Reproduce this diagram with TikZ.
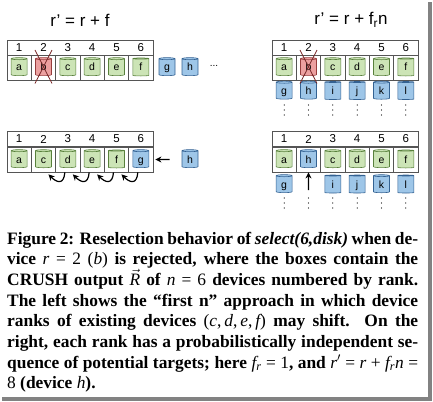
\documentclass[tikz,border=0pt]{standalone}
\usepackage{fontspec}
\setmainfont{Liberation Serif}
\setsansfont{Liberation Sans}
\usepackage{tikz}
\usetikzlibrary{shapes,arrows.meta,positioning}
\definecolor{boxgray}{RGB}{85,85,85}
\definecolor{diskgreen}{RGB}{204,228,182}
\definecolor{diskgreenline}{RGB}{88,128,60}
\definecolor{diskblue}{RGB}{158,198,232}
\definecolor{diskblueline}{RGB}{52,98,146}
\definecolor{diskred}{RGB}{236,160,160}
\definecolor{diskredline}{RGB}{150,62,62}
\definecolor{crossred}{RGB}{120,40,40}
\definecolor{shadowgray}{RGB}{130,130,130}
\newcommand{\mv}[1]{{\mdseries\itshape #1}}
\newcommand{\mn}[1]{{\mdseries #1}}

\begin{document}
\begin{tikzpicture}[x=1pt, y=-1pt,
    numbar/.style={rectangle, draw=boxgray, line width=0.8pt, minimum width=146pt, minimum height=15pt, inner sep=0pt},
    slot/.style={rectangle, draw=boxgray, line width=0.8pt, minimum width=24.33pt, minimum height=25pt, inner sep=0pt},
    disk/.style={cylinder, shape border rotate=90, aspect=0.3, minimum width=16pt, minimum height=18pt, inner sep=0.5pt, text height=7pt, text depth=0pt, line width=0.6pt, font=\sffamily\fontsize{10.5}{10.5}\selectfont},
    gdisk/.style={disk, draw=diskgreenline, fill=diskgreen},
    bdisk/.style={disk, draw=diskblueline, fill=diskblue},
    rdisk/.style={disk, draw=diskredline, fill=diskred},
    rank/.style={font=\sffamily\fontsize{11.5}{11.5}\selectfont},
    formula/.style={font=\sffamily\fontsize{17}{17}\selectfont},
    cross/.style={draw=crossred, line width=0.8pt},
    dot/.style={circle, fill=black, inner sep=0pt, minimum size=1.3pt},
    shiftarrow/.style={-{Stealth[length=6pt,width=6pt]}, line width=1.2pt}
]
\useasboundingbox (0,0) rectangle (433,401);

% Frame shadow
\fill[shadowgray] (428,2) rectangle (432,401);
\fill[shadowgray] (2,397) rectangle (432,401);

% Top left: r' = r + f
\node[formula] (fl) at (80,20) {r' = r + f};
\node[numbar] (nl) at (80,47.5) {};
\foreach \i in {1,...,6} {
    \node[rank] at (7+24.33*\i-12.17, 47.5) {\i};
    \node[slot] (tl\i) at (7+24.33*\i-12.17, 67.5) {};
}
\foreach \i/\l/\s in {1/a/gdisk, 2/b/rdisk, 3/c/gdisk, 4/d/gdisk, 5/e/gdisk, 6/f/gdisk} {
    \node[\s] (tld\i) at (tl\i) {\l};
}
\node[bdisk] (tlg) at (167,67.5) {g};
\node[bdisk] (tlh) at (190,67.5) {h};
\node (more) at (214,66) {\sffamily ...};
\draw[cross] (tl2.center) +(-8.5,-17.5) -- +(8.5,16);
\draw[cross] (tl2.center) +(8.5,-17.5) -- +(-8.5,16);

% Top right: r' = r + f_r n
\node[formula] (fr) at (351,20) {r' = r + f\textsubscript{r}n};
\node[numbar] (nr) at (345,47.5) {};
\foreach \i in {1,...,6} {
    \node[rank] at (272+24.33*\i-12.17, 47.5) {\i};
    \node[slot] (tr\i) at (272+24.33*\i-12.17, 67.5) {};
    \node[dot] at (272+24.33*\i-12.17, 105) {};
    \node[dot] at (272+24.33*\i-12.17, 110) {};
    \node[dot] at (272+24.33*\i-12.17, 115) {};
}
\foreach \i/\l/\s in {1/a/gdisk, 2/b/rdisk, 3/c/gdisk, 4/d/gdisk, 5/e/gdisk, 6/f/gdisk} {
    \node[\s] (trd\i) at (tr\i) {\l};
}
\foreach \i/\l in {1/g, 2/h, 3/i, 4/j, 5/k, 6/l} {
    \node[bdisk] (trn\i) at (272+24.33*\i-12.17, 91) {\l};
}
\draw[cross] (tr2.center) +(-8.5,-17.5) -- +(8.5,16);
\draw[cross] (tr2.center) +(8.5,-17.5) -- +(-8.5,16);

% Bottom left: first n
\node[numbar] (bnl) at (80,139) {};
\foreach \i in {1,...,6} {
    \node[rank] at (7+24.33*\i-12.17, 139) {\i};
    \node[slot] (bl\i) at (7+24.33*\i-12.17, 159.5) {};
}
\foreach \i/\l/\s in {1/a/gdisk, 2/c/gdisk, 3/d/gdisk, 4/e/gdisk, 5/f/gdisk, 6/g/bdisk} {
    \node[\s] (bld\i) at (bl\i) {\l};
}
\node[bdisk] (blh) at (190,159.5) {h};
\draw[shiftarrow, shorten <=12pt, shorten >=2pt] (blh.west) -- (bl6.east);
\foreach \i [evaluate=\i as \j using int(\i+1)] in {2,...,5} {
    \draw[shiftarrow] ([xshift=-3pt]bl\j.south) .. controls +(-1,13) and +(8,8) .. ([xshift=5pt,yshift=-2pt]bl\i.south);
}

% Bottom right: independent sequences
\node[numbar] (bnr) at (345,139) {};
\foreach \i in {1,...,6} {
    \node[rank] at (272+24.33*\i-12.17, 139) {\i};
    \node[slot] (br\i) at (272+24.33*\i-12.17, 159.5) {};
    \node[dot] at (272+24.33*\i-12.17, 198) {};
    \node[dot] at (272+24.33*\i-12.17, 203) {};
    \node[dot] at (272+24.33*\i-12.17, 208) {};
}
\foreach \i/\l/\s in {1/a/gdisk, 2/h/bdisk, 3/c/gdisk, 4/d/gdisk, 5/e/gdisk, 6/f/gdisk} {
    \node[\s] (brd\i) at (br\i) {\l};
}
\foreach \i/\l in {1/g, 3/i, 4/j, 5/k, 6/l} {
    \node[bdisk] (brn\i) at (272+24.33*\i-12.17, 184.5) {\l};
}
\coordinate (up) at (308.5,190);
\draw[shiftarrow] (up) -- (br2.south);

% Caption
\node[anchor=base west, inner sep=0pt] (caption) at (7,244) {\parbox[t]{411pt}{\fontsize{17.4}{20.7}\selectfont\bfseries
Figure 2: Reselection behavior of \textit{select(6,disk)} when de-\linebreak
vice \mv{r}\mn{ = 2 (\mv{b})} is rejected, where the boxes contain the\linebreak
CRUSH output {\mdseries$\vec{\mbox{\itshape R}}$} of \mv{n}\mn{ = 6} devices numbered by rank.\linebreak
The left shows the ``first n'' approach in which device\linebreak
ranks of existing devices \mn{(\mv{c},\,\mv{d},\,\mv{e},\,\mv{f})} may shift. On the\linebreak
right, each rank has a probabilistically independent se-\linebreak
quence of potential targets; here \mv{f\textsubscript{r}}\mn{ = 1}, and \mv{r}{\mdseries$'$}\mn{ = \mv{r} + \mv{f\textsubscript{r}n} =}\linebreak
\mn{8} (device \mv{h}).}};

\end{tikzpicture}
\end{document}
